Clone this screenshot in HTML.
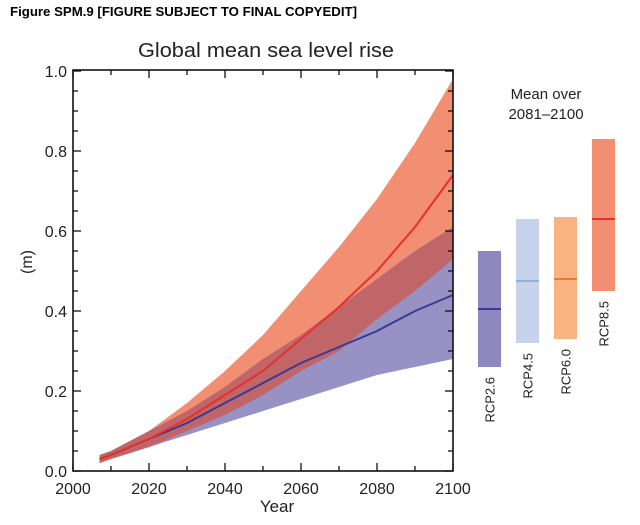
<!DOCTYPE html>
<html><head><meta charset="utf-8"><style>
html,body{margin:0;padding:0;background:#fff;}
svg{display:block;font-family:"Liberation Sans",Arial,sans-serif;}
</style></head><body>
<svg id="chart" width="640" height="525" viewBox="0 0 640 525">
<text x="10" y="16" font-size="13" font-weight="bold" textLength="347" lengthAdjust="spacingAndGlyphs">Figure SPM.9 [FIGURE SUBJECT TO FINAL COPYEDIT]</text>
<text x="266" y="57" font-size="20" text-anchor="middle" textLength="256" lengthAdjust="spacingAndGlyphs" fill="#222">Global mean sea level rise</text>
<g id="plot"></g>
<text x="277" y="512" font-size="17" text-anchor="middle" fill="#222">Year</text>
<text transform="translate(32,262) rotate(-90)" font-size="16" text-anchor="middle" fill="#222">(m)</text>
<text x="546" y="99" font-size="15" text-anchor="middle" fill="#222">Mean over</text>
<text x="546" y="119" font-size="15" text-anchor="middle" fill="#222">2081–2100</text>
<g id="bars"></g>
</svg>
<script>
const years=[2007,2010,2020,2030,2040,2050,2060,2070,2080,2090,2100];
const rcp85Mean=[0.03,0.04,0.08,0.13,0.19,0.25,0.33,0.41,0.50,0.61,0.74];
const rcp85High=[0.04,0.05,0.10,0.17,0.25,0.34,0.45,0.56,0.68,0.82,0.98];
const rcp85Low=[0.02,0.03,0.06,0.10,0.14,0.19,0.25,0.30,0.38,0.45,0.53];
const rcp26Mean=[0.03,0.04,0.08,0.12,0.17,0.22,0.27,0.31,0.35,0.40,0.44];
const rcp26High=[0.04,0.05,0.10,0.15,0.21,0.28,0.34,0.41,0.48,0.55,0.61];
const rcp26Low=[0.02,0.03,0.06,0.09,0.12,0.15,0.18,0.21,0.24,0.26,0.28];
const barNames=["RCP2.6","RCP4.5","RCP6.0","RCP8.5"];
const barLow=[0.26,0.32,0.33,0.45];
const barHigh=[0.55,0.63,0.635,0.83];
const barMean=[0.405,0.475,0.48,0.63];
const xTickLabels=[2000,2020,2040,2060,2080,2100];
const yTickLabels=[0.0,0.2,0.4,0.6,0.8,1.0];

const NS="http://www.w3.org/2000/svg";
const X0=73,X1=453,Y0=471,Y1=71;
const xs=v=>X0+(v-2000)/100*(X1-X0);
const ys=v=>Y0-v*(Y0-Y1);
function mk(parent,tag,attrs){const e=document.createElementNS(NS,tag);for(const k in attrs)e.setAttribute(k,attrs[k]);parent.appendChild(e);return e;}
const plot=document.getElementById('plot');
function band(hi,lo,fill){
  let d="M"+years.map((y,i)=>xs(y)+","+ys(hi[i])).join("L");
  d+="L"+years.slice().reverse().map((y,j)=>{const i=years.length-1-j;return xs(y)+","+ys(lo[i]);}).join("L")+"Z";
  const p=mk(plot,'path',{d:d,fill:fill});
  
  return p;
}
const b85=band(rcp85High,rcp85Low,"#f28e72");

const b26=band(rcp26High,rcp26Low,"#9891c4");

const ovHi=years.map((y,i)=>Math.min(rcp85High[i],rcp26High[i]));
const ovLo=years.map((y,i)=>Math.max(rcp85Low[i],rcp26Low[i]));
const bov=band(ovHi,ovLo,"#c06668");

function line(vals,color){
  return mk(plot,'polyline',{points:years.map((y,i)=>xs(y)+","+ys(vals[i])).join(" "),fill:"none",stroke:color,"stroke-width":2});
}
const l26=line(rcp26Mean,"#3a3a95");


const l85=line(rcp85Mean,"#e8302a");


const fr=mk(plot,'rect',{x:X0,y:Y1-1,width:X1-X0,height:Y0-Y1+1,fill:"none",stroke:"#111","stroke-width":1.6});


for(let k=0;k<=20;k++){
  const v=k*0.05,major=k%4===0,len=major?8:5,y=ys(v);
  mk(plot,'line',{x1:X0,x2:X0+len,y1:y,y2:y,stroke:"#111","stroke-width":1.3});
  mk(plot,'line',{x1:X1,x2:X1-len,y1:y,y2:y,stroke:"#111","stroke-width":1.3});
}
yTickLabels.forEach(v=>{
  const t=mk(plot,'text',{x:X0-6,y:ys(v)+6,"font-size":16,"text-anchor":"end",fill:"#222"});
  t.textContent=v.toFixed(1);
  
  
});
for(let yr=2000;yr<=2100;yr+=10){
  const major=yr%20===0,len=major?8:5,x=xs(yr);
  mk(plot,'line',{x1:x,x2:x,y1:Y0,y2:Y0-len,stroke:"#111","stroke-width":1.3});
  mk(plot,'line',{x1:x,x2:x,y1:Y1-1,y2:Y1-1+len,stroke:"#111","stroke-width":1.3});
}
xTickLabels.forEach(v=>{
  const t=mk(plot,'text',{x:xs(v),y:Y0+23,"font-size":16,"text-anchor":"middle",fill:"#222"});
  t.textContent=v;
  
  
});
const bars=document.getElementById('bars');
const BY0=471,BS=400; const by=v=>BY0-v*BS;
const barFill=["#8f87c0","#c6d3eb","#f9b382","#f28e72"];
const barLine=["#3a3a95","#8fb0dc","#ee7a2a","#e8302a"];
barNames.forEach((n,i)=>{
  const bx=478+i*38,w=23;
  const r=mk(bars,'rect',{x:bx,y:by(barHigh[i]),width:w,height:by(barLow[i])-by(barHigh[i]),fill:barFill[i]});
  
  
  const m=mk(bars,'line',{x1:bx,x2:bx+w,y1:by(barMean[i]),y2:by(barMean[i]),stroke:barLine[i],"stroke-width":2});
  
  
  const ty=by(barLow[i])+10,tx=bx+w/2+5;
  const t=mk(bars,'text',{transform:"translate("+tx+","+ty+") rotate(-90)","font-size":13,"text-anchor":"end",fill:"#222"});
  t.textContent=n;
  
  
});
</script>
</body></html>
